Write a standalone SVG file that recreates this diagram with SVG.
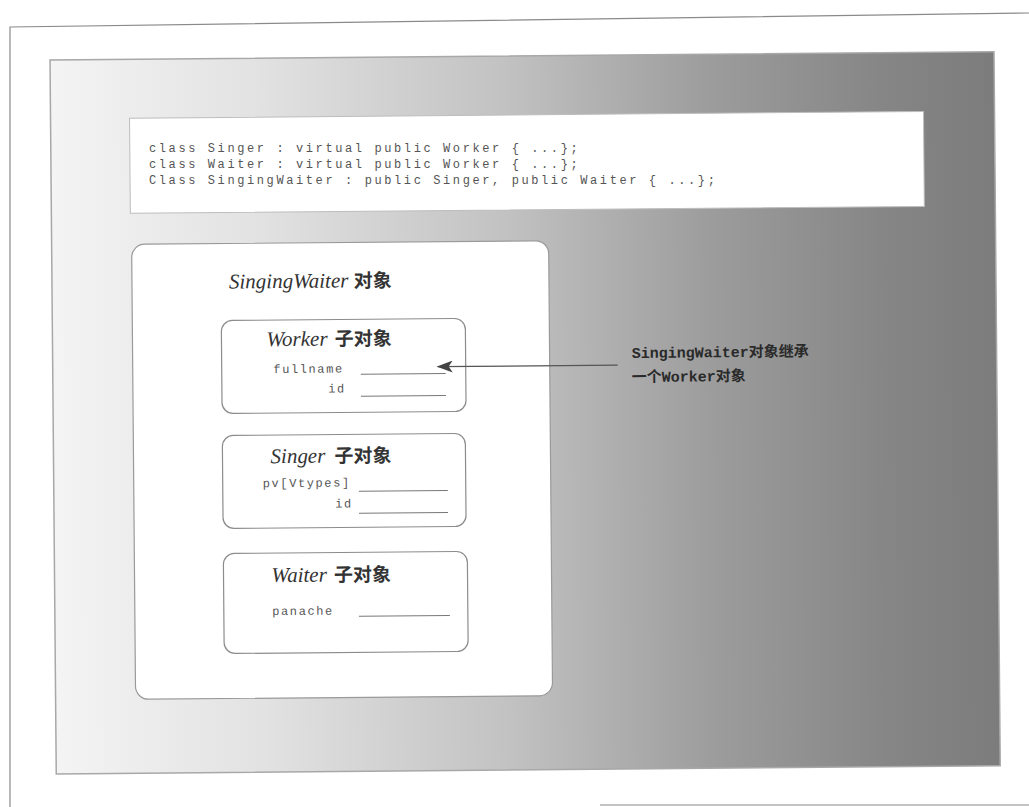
<svg xmlns="http://www.w3.org/2000/svg" width="1029" height="807" viewBox="0 0 1029 807">
  <defs>
    <linearGradient id="panelGrad" x1="0" y1="0" x2="1" y2="0">
      <stop offset="0" stop-color="#f4f4f4"/>
      <stop offset="0.22" stop-color="#e2e2e2"/>
      <stop offset="0.48" stop-color="#c2c2c2"/>
      <stop offset="0.7" stop-color="#9c9c9c"/>
      <stop offset="0.88" stop-color="#868686"/>
      <stop offset="1" stop-color="#7c7c7c"/>
    </linearGradient>
    <marker id="arrowHead" viewBox="0 0 16 12" refX="15" refY="6" markerWidth="16" markerHeight="12" markerUnits="userSpaceOnUse" orient="auto">
      <path d="M0,0 L16,6 L0,12 L4,6 Z" fill="#444"/>
    </marker>
  </defs>
  <style>
    .frame { fill: none; stroke: #8a8a8a; stroke-width: 1.2; }
    .panel { fill: url(#panelGrad); stroke: #a8a8a8; stroke-width: 1.5; }
    .codebox { fill: #ffffff; stroke: #bdbdbd; stroke-width: 1; }
    .code { font-family: "Liberation Mono", "DejaVu Sans Mono", monospace; font-size: 12px; letter-spacing: 2.6px; fill: #555; }
    .objbox { fill: #ffffff; stroke: #9a9a9a; stroke-width: 1.2; }
    .subbox { fill: #ffffff; stroke: #8c8c8c; stroke-width: 1.2; }
    .title { font-family: "Liberation Serif", "Noto Sans CJK SC", serif; font-style: italic; font-size: 21px; fill: #333; }
    .cjk { font-family: "Noto Sans CJK SC", sans-serif; font-style: normal; font-weight: bold; font-size: 19px; fill: #333; }
    .field { font-family: "Liberation Mono", "DejaVu Sans Mono", monospace; font-size: 12px; letter-spacing: 1.6px; fill: #555; text-anchor: end; }
    .slot { stroke: #777; stroke-width: 1; }
    .label { font-family: "Liberation Mono", "Noto Sans CJK SC", monospace; font-size: 15px; font-weight: bold; fill: #2a2a2a; }
    .conn { stroke: #555; stroke-width: 1.3; fill: none; }
  </style>

  <rect x="0" y="0" width="1029" height="807" fill="#ffffff"/>

  <g id="outer-frame">
    <path class="frame" d="M10,807 L10,27 L1029,13"/>
    <path class="frame" d="M600,805 L1029,805"/>
  </g>

  <g transform="rotate(-0.5 514 400)">
    <g id="panel">
      <rect class="panel" x="53" y="56" width="944" height="714"/>
    </g>

    <g id="code-box">
      <rect class="codebox" x="132" y="115" width="794" height="95"/>
    </g>

    <g id="singingwaiter-object">
      <rect class="objbox" x="133" y="241" width="417" height="455" rx="13" ry="13"/>
      <text class="title" x="230" y="286">SingingWaiter <tspan class="cjk" font-size="20px">对象</tspan></text>
    </g>

    <g id="worker-subobject">
      <rect class="subbox" x="222" y="318" width="244" height="93" rx="11" ry="11"/>
      <text class="title" x="267" y="344">Worker <tspan class="cjk" dx="2">子对象</tspan></text>
      <text class="field" x="344" y="371">fullname</text>
      <line class="slot" x1="361" y1="373" x2="446" y2="373"/>
      <text class="field" x="346" y="391">id</text>
      <line class="slot" x1="361" y1="395" x2="446" y2="395"/>
    </g>

    <g id="singer-subobject">
      <rect class="subbox" x="222" y="433" width="243" height="93" rx="11" ry="11"/>
      <text class="title" x="270" y="461">Singer <tspan class="cjk" dx="4">子对象</tspan></text>
      <text class="field" x="350" y="485">pv[Vtypes]</text>
      <line class="slot" x1="358" y1="490" x2="447" y2="490"/>
      <text class="field" x="352" y="506">id</text>
      <line class="slot" x1="358" y1="512" x2="447" y2="512"/>
    </g>

    <g id="waiter-subobject">
      <rect class="subbox" x="222" y="551" width="244" height="100" rx="11" ry="11"/>
      <text class="title" x="270" y="580">Waiter <tspan class="cjk" dx="2">子对象</tspan></text>
      <text class="field" x="332" y="613">panache</text>
      <line class="slot" x1="357" y1="615" x2="448" y2="615"/>
    </g>

    <g id="connectors">
      <line class="conn" x1="618" y1="366" x2="438" y2="366" marker-end="url(#arrowHead)"/>
    </g>

    <g id="annotation">
      <text class="label" x="632" y="359">SingingWaiter对象继承</text>
      <text class="label" x="632" y="383">一个Worker对象</text>
    </g>
  </g>

  <g id="code">
    <text class="code" x="149" y="152">class Singer : virtual public Worker { ...};</text>
    <text class="code" x="149" y="168">class Waiter : virtual public Worker { ...};</text>
    <text class="code" x="149" y="184">Class SingingWaiter : public Singer, public Waiter { ...};</text>
  </g>
</svg>
